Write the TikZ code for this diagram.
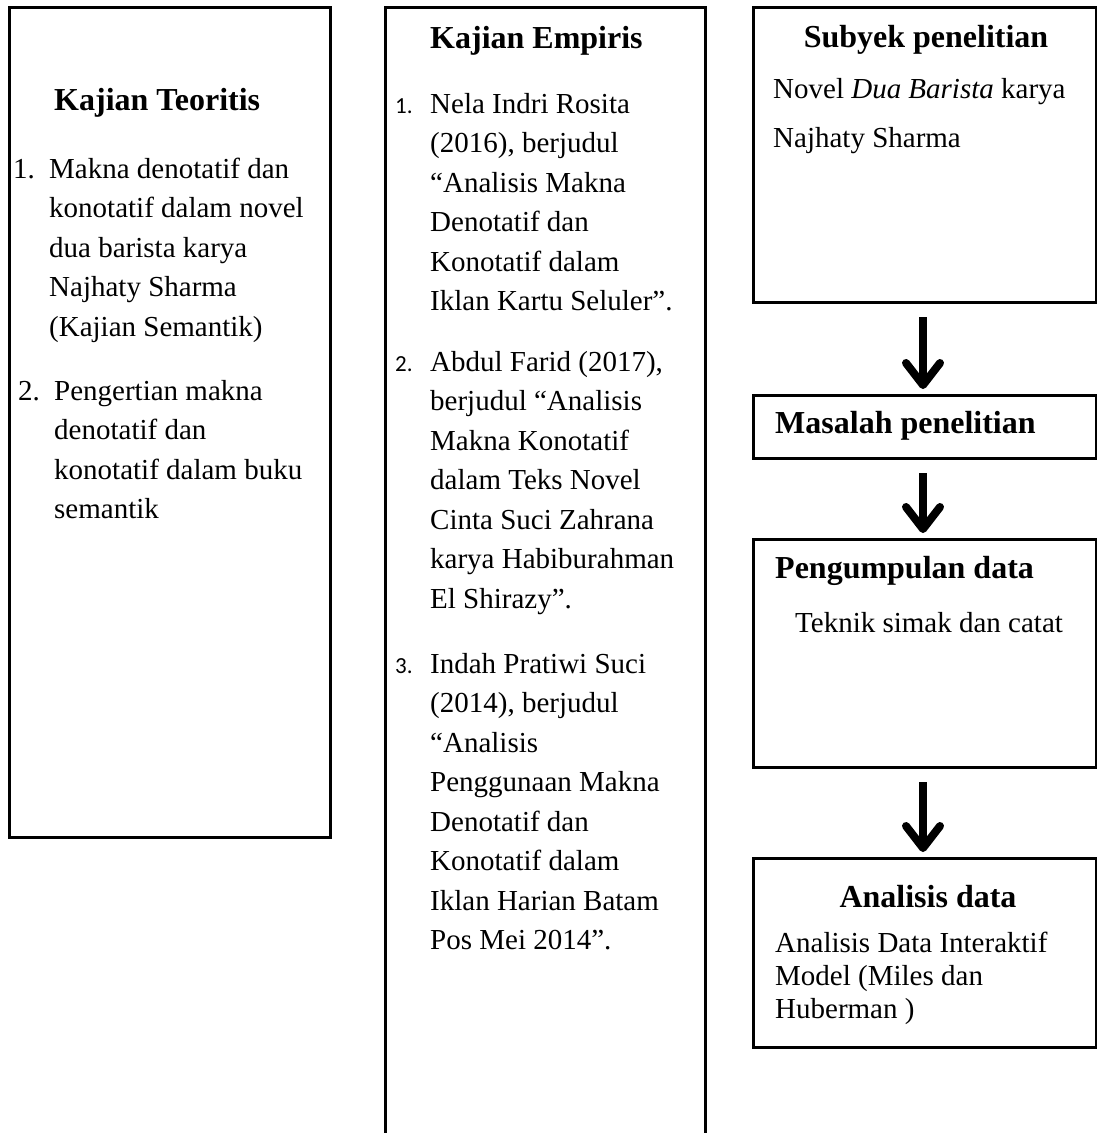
\documentclass[tikz,border=0pt]{standalone}
\usepackage{fontspec}
\setmainfont{Liberation Serif}
\newfontfamily\numfont{Carlito}
\usetikzlibrary{arrows.meta}
\begin{document}
\begin{tikzpicture}[x=1pt,y=-1pt,
  box/.style={draw, line width=3pt, inner sep=0pt, outer sep=0pt},
  body/.style={anchor=base west, inner sep=0pt, font=\fontsize{29}{39.5}\selectfont},
  head/.style={anchor=base west, inner sep=0pt, font=\fontsize{32}{40}\selectfont\bfseries},
  numsans/.style={anchor=base west, inner sep=0pt, font=\fontsize{23}{25}\selectfont\numfont},
  arr/.style={line width=8pt, -{Straight Barb[round, length=22pt, width=34pt]}, shorten <=15pt, shorten >=6pt}
]
\useasboundingbox (0,0) rectangle (1097,1133);
\fill[white] (0,0) rectangle (1097,1133);

% boxes
\node[box, minimum width=321pt, minimum height=830pt] (b1) at (169.5,422) {};
\node[box, minimum width=320pt, minimum height=1160pt] (b2) at (545,587) {};
\node[box, minimum width=343pt, minimum height=295pt] (b3) at (924.5,154.5) {};
\node[box, minimum width=343pt, minimum height=63pt] (b4) at (924.5,426.5) {};
\node[box, minimum width=343pt, minimum height=228pt] (b5) at (924.5,653) {};
\node[box, minimum width=343pt, minimum height=189pt] (b6) at (924.5,952.5) {};

% Kajian Teoritis
\node[head] (h1) at (54,110) {Kajian Teoritis};
\node[body] (n11) at (13,178) {1.};
\node[body] (t11) at (49,178) {\vtop{\hbox{Makna denotatif dan}\hbox{konotatif dalam novel}\hbox{dua barista karya}\hbox{Najhaty Sharma}\hbox{(Kajian Semantik)}}};
\node[body] (n12) at (18,400) {2.};
\node[body] (t12) at (54,400) {\vtop{\hbox{Pengertian makna}\hbox{denotatif dan}\hbox{konotatif dalam buku}\hbox{semantik}}};

% Kajian Empiris
\node[head] (h2) at (430,48) {Kajian Empiris};
\node[numsans] (n21) at (395,113) {1.};
\node[body] (t21) at (430,113) {\vtop{\hbox{Nela Indri Rosita}\hbox{(2016), berjudul}\hbox{“Analisis Makna}\hbox{Denotatif dan}\hbox{Konotatif dalam}\hbox{Iklan Kartu Seluler”.}}};
\node[numsans] (n22) at (395,371) {2.};
\node[body] (t22) at (430,371) {\vtop{\hbox{Abdul Farid (2017),}\hbox{berjudul “Analisis}\hbox{Makna Konotatif}\hbox{dalam Teks Novel}\hbox{Cinta Suci Zahrana}\hbox{karya Habiburahman}\hbox{El Shirazy”.}}};
\node[numsans] (n23) at (395,673) {3.};
\node[body] (t23) at (430,673) {\vtop{\hbox{Indah Pratiwi Suci}\hbox{(2014), berjudul}\hbox{“Analisis}\hbox{Penggunaan Makna}\hbox{Denotatif dan}\hbox{Konotatif dalam}\hbox{Iklan Harian Batam}\hbox{Pos Mei 2014”.}}};

% right column
\node[head, anchor=base] (h3) at (926,47) {Subyek penelitian};
\node[body, font=\fontsize{29}{49}\selectfont] (t3) at (773,98) {\vtop{\hbox{Novel \textit{Dua Barista} karya}\hbox{Najhaty Sharma}}};
\node[head] (h4) at (775,433) {Masalah penelitian};
\node[head] (h5) at (775,578) {Pengumpulan data};
\node[body] (t5) at (795,632) {Teknik simak dan catat};
\node[head, anchor=base] (h6) at (928,907) {Analisis data};
\node[body, font=\fontsize{29}{33}\selectfont] (t6) at (775,952) {\vtop{\hbox{Analisis Data Interaktif}\hbox{Model (Miles dan}\hbox{Huberman )}}};

% arrows
\draw[arr] ([xshift=-1.5pt]b3.south) -- ([xshift=-1.5pt]b4.north);
\draw[arr] ([xshift=-1.5pt]b4.south) -- ([xshift=-1.5pt]b5.north);
\draw[arr] ([xshift=-1.5pt]b5.south) -- ([xshift=-1.5pt]b6.north);
\end{tikzpicture}
\end{document}
